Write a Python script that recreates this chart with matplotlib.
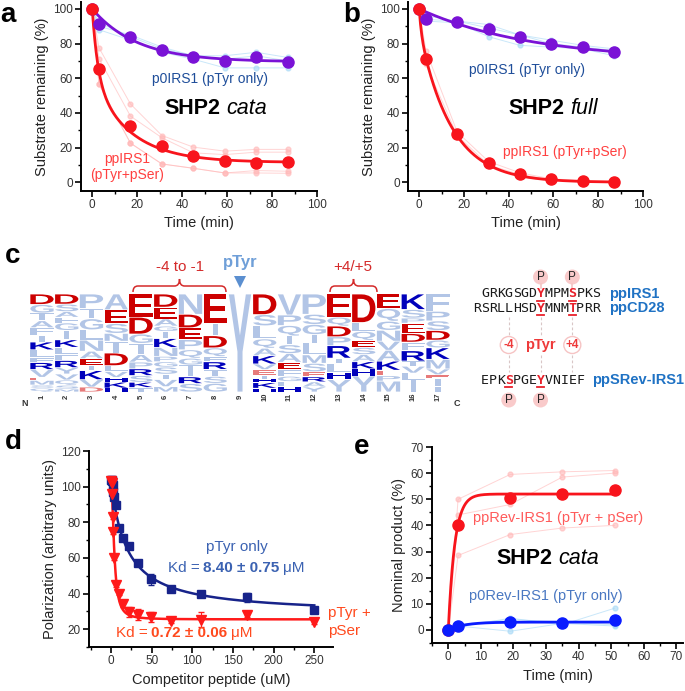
import numpy as np
import matplotlib
matplotlib.use('Agg')
import matplotlib.pyplot as plt
from matplotlib.textpath import TextPath
from matplotlib.font_manager import FontProperties
from matplotlib.patches import PathPatch, Ellipse, Polygon
from matplotlib.path import Path
from matplotlib.transforms import Affine2D
import matplotlib.ticker as mt

plt.rcParams['font.family'] = ['Liberation Sans', 'DejaVu Sans']

# ---------------- data ----------------
# panel a (SHP2 cata)
time_ab = [0, 3, 17, 31, 45, 59, 73, 87]
p0_a_mean = [100, 91.1, 83.6, 76.6, 72.4, 69.9, 72.0, 69.5]
pp_a_mean = [100, 65.6, 32.2, 20.7, 15.4, 12.2, 11.2, 12.0]
p0_a_rep1 = [100, 90, 85, 78, 73, 73, 75, 72]
p0_a_rep2 = [100, 88, 82, 75, 71, 66, 66, 66]
p0_a_rep3 = [100, 92, 84, 77, 73, 71, 73, 70]
pp_a_rep1 = [100, 77.6, 45.2, 27.0, 20.3, 18.0, 19.0, 19.0]
pp_a_rep2 = [100, 71.4, 38.2, 25.7, 17.0, 16.0, 17.4, 17.4]
pp_a_rep3 = [100, 56.6, 22.6, 10.6, 8.1, 5.4, 6.8, 6.4]
pp_a_rep4 = [100, 56.6, 22.6, 10.6, 8.1, 5.4, 5.4, 5.2]

# panel b (SHP2 full)
p0_b_mean = [100, 94.2, 92.6, 88.4, 83.6, 79.7, 78.1, 75.4]
pp_b_mean = [100, 71.0, 28.0, 11.0, 5.0, 1.7, 0.8, 0.0]
p0_b_rep1 = [100, 96, 93, 91, 85, 82, 79, 77]
p0_b_rep2 = [100, 93, 92, 84, 79, 78, 77, 73]
p0_b_rep3 = [100, 94, 93, 89, 85, 80, 78, 76]
pp_b_rep1 = [100, 76, 29, 12, 5.5, 2, 1, 0.5]
pp_b_rep2 = [100, 68, 27, 10, 4.5, 1.5, 0.5, 0]

# fit parameters
fit_a_p0 = (69.5, 30.5, 0.05)
fit_a_pp = (11.5, 40.0, 0.4, 48.5, 0.06)
fit_b_p0 = (70.0, 30.0, 0.0197)
fit_b_pp = (0.0, 12.0, 1.0, 88.0, 0.07)

# panel c: sequence logo, letters listed top -> bottom with heights
logo_letters = ["DGTAFIKLFRVEMSQ", "DSAFGIKLFRYVQSM", "PTGLNAEIKVD", "AESNTDLVHKH",
                "EDGTAPRSKT", "DEAGIKNPGSTVM", "NDEPQGTIRS", "EIDQFRTSG", "Y",
                "DSLQAKVEIHKH", "VPQISAEFGLH", "PSGILMSERAY", "EQDPRILHY",
                "DLQESAKHY", "EQGNVAKEPM", "KSPEDFRTVLI", "FPSDGKMVEIT"]
logo_heights = [[27, 22, 20, 18, 20, 17, 20, 20, 13, 18, 20, 8, 12, 8, 10],
                [27, 20, 15, 15, 20, 25, 20, 20, 15, 19, 17, 16, 14, 10, 8],
                [35, 25, 27, 25, 27, 18, 17, 12, 22, 18, 12],
                [40, 35, 25, 20, 30, 32, 15, 15, 12, 15, 10],
                [62, 45, 25, 30, 20, 18, 18, 18, 14, 12],
                [37, 33, 20, 15, 20, 25, 25, 15, 15, 20, 15, 20, 15],
                [60, 40, 35, 30, 25, 20, 15, 20, 20, 25],
                [85, 35, 35, 25, 15, 22, 20, 20, 25],
                [1],
                [55, 30, 35, 25, 20, 22, 15, 15, 10, 10, 15, 10],
                [60, 30, 30, 25, 25, 25, 20, 20, 15, 15, 15],
                [60, 30, 30, 25, 35, 25, 25, 15, 15, 15, 15],
                [65, 25, 30, 25, 35, 15, 25, 20, 35],
                [80, 25, 25, 20, 20, 20, 20, 20, 45],
                [40, 35, 25, 30, 25, 30, 25, 15, 15, 30],
                [45, 25, 15, 30, 25, 25, 30, 15, 20, 20, 35],
                [45, 25, 25, 25, 20, 30, 25, 15, 10, 20, 15]]
logo_positions = list(range(1, 18))

seq_ppIRS1 = "GRKGSGDYMPMSPKS"
seq_ppCD28 = "RSRLLHSDYMNMTPRR"
seq_ppSRev = "EPKSPGEYVNIEF"

# panel d
conc_d = [0, 0.86, 1.28, 1.93, 2.89, 4.33, 6.5, 9.75, 14.6, 21.9, 32.9, 49.4, 74.1, 111.1, 166.7, 250]
pol_pTyr = [104, 104, 103, 101, 97, 94, 89.7, 76.6, 71, 66.6, 57.3, 48, 42.6, 39.7, 37.8, 30.7]
err_pTyr = [1, 1, 1, 1, 1, 1, 1, 1, 1, 1.5, 1.5, 3, 1.5, 1.5, 2.5, 1]
pol_pTyr_pSer = [103, 102, 96, 82.7, 74.6, 60, 44.7, 40, 34, 29.7, 28.2, 26.9, 24.5, 25.4, 27.7, 24.1]
err_pTyr_pSer = [1, 1, 1, 1, 1, 1, 1, 1, 1.5, 3, 3, 3, 1, 4, 1, 1]
fit_d_pTyr = (28.0, 76.0, 19.0, 1.0)
fit_d_pSer = (25.5, 78.0, 4.0, 2.0)

# panel e
time_e = [0, 3, 19, 35, 51]
pp_e_mean = [0, 40, 50.5, 52, 53.5]
p0_e_mean = [0, 1.5, 3, 2.5, 3.8]
pp_e_rep1 = [0, 50, 59.5, 60.5, 61]
pp_e_rep2 = [0, 44, 48, 58.5, 60]
pp_e_rep3 = [0, 28.5, 36.5, 39, 40]
p0_e_rep1 = [0, 1, 4.5, 2, 8.3]
p0_e_rep2 = [0, 1.5, -0.5, 2.5, 1.5]
p0_e_rep3 = [0, 2, 4, 3, 2]
fit_e_pp = (52.0, 0.5)
fit_e_p0 = (3.0, 0.2)

# ---------------- colours ----------------
PURPLE = '#7a12d6'
RED = '#f8141c'
LBLUE = '#a6d8f6'
LRED = '#ffb8b8'
NAVY = '#17238a'
TXT_BLUE = '#1f4e9a'

W, H = 685, 691
fig = plt.figure(figsize=(6.85, 6.91), dpi=100)


def fx(x):
    return x / W


def fy(y):
    return 1 - y / H


def ax_px(l, t, r, b):
    return fig.add_axes([l / W, 1 - b / H, (r - l) / W, (b - t) / H])


def style(ax, xmaj, xmin, ymaj, ymin):
    for s in ['top', 'right']:
        ax.spines[s].set_visible(False)
    for s in ['left', 'bottom']:
        ax.spines[s].set_linewidth(1.4)
    ax.xaxis.set_major_locator(mt.MultipleLocator(xmaj))
    ax.xaxis.set_minor_locator(mt.MultipleLocator(xmin))
    ax.yaxis.set_major_locator(mt.MultipleLocator(ymaj))
    ax.yaxis.set_minor_locator(mt.MultipleLocator(ymin))
    ax.tick_params(which='major', direction='out', length=4, width=1.2,
                   labelsize=8.5, pad=2, labelcolor='#333333')
    ax.tick_params(which='minor', direction='out', length=2.5, width=1)


renderer = fig.canvas.get_renderer()


def rich(x, y, parts, gap=4, ha='center'):
    texts, widths = [], []
    for s, kw in parts:
        t = fig.text(0, 0, s, va='center', ha='left', **kw)
        widths.append(t.get_window_extent(renderer).width)
        texts.append(t)
    total = sum(widths) + gap * (len(parts) - 1)
    xs = x - total / 2 if ha == 'center' else x
    for t, wd in zip(texts, widths):
        t.set_position((fx(xs), fy(y)))
        xs += wd + gap


def ftext(x, y, s, **kw):
    kw.setdefault('ha', 'center')
    kw.setdefault('va', 'center')
    fig.text(fx(x), fy(y), s, **kw)


# ---------------- panel a ----------------
ax = ax_px(81, 2, 317, 191)
ax.set_xlim(-5, 100)
ax.set_ylim(-5, 104)
style(ax, 20, 10, 20, 10)
for rep in [p0_a_rep1, p0_a_rep2, p0_a_rep3]:
    ax.plot(time_ab, rep, '-o', color=LBLUE, lw=0.7, ms=3.5, alpha=0.6, zorder=1)
for rep in [pp_a_rep1, pp_a_rep2, pp_a_rep3, pp_a_rep4]:
    ax.plot(time_ab, rep, '-o', color=LRED, lw=0.7, ms=3.5, alpha=0.6, zorder=1)
tf = np.linspace(0, 87, 300)
ax.plot(tf, fit_a_p0[0] + fit_a_p0[1] * np.exp(-fit_a_p0[2] * tf), color=PURPLE, lw=2, zorder=2)
ax.plot(tf, fit_a_pp[0] + fit_a_pp[1] * np.exp(-fit_a_pp[2] * tf) + fit_a_pp[3] * np.exp(-fit_a_pp[4] * tf),
        color=RED, lw=2, zorder=2)
ax.plot(time_ab, p0_a_mean, 'o', color=PURPLE, ms=8, zorder=3)
ax.plot(time_ab, pp_a_mean, 'o', color=RED, ms=8, zorder=3)
ax.set_ylabel('Substrate remaining (%)', fontsize=10.5, color='#222222', labelpad=3)
ax.set_xlabel('Time (min)', fontsize=10.5, color='#222222', labelpad=3)

ftext(210, 79, 'p0IRS1 (pTyr only)', fontsize=10, color=TXT_BLUE)
rich(216, 108, [('SHP2', dict(fontsize=15.5, weight='bold')),
                ('cata', dict(fontsize=15.5, style='italic'))], gap=6)
ftext(127, 159, 'ppIRS1', fontsize=10, color='#ff4040')
ftext(127, 175, '(pTyr+pSer)', fontsize=10, color='#ff4040')

# ---------------- panel b ----------------
ax = ax_px(408, 2, 643, 191)
ax.set_xlim(-5, 100)
ax.set_ylim(-5, 104)
style(ax, 20, 10, 20, 10)
for rep in [p0_b_rep1, p0_b_rep2, p0_b_rep3]:
    ax.plot(time_ab, rep, '-o', color=LBLUE, lw=0.7, ms=3.5, alpha=0.6, zorder=1)
for rep in [pp_b_rep1, pp_b_rep2]:
    ax.plot(time_ab, rep, '-o', color=LRED, lw=0.7, ms=3.5, alpha=0.6, zorder=1)
ax.plot(tf, fit_b_p0[0] + fit_b_p0[1] * np.exp(-fit_b_p0[2] * tf), color=PURPLE, lw=2, zorder=2)
ax.plot(tf, fit_b_pp[0] + fit_b_pp[1] * np.exp(-fit_b_pp[2] * tf) + fit_b_pp[3] * np.exp(-fit_b_pp[4] * tf),
        color=RED, lw=2, zorder=2)
ax.plot(time_ab, p0_b_mean, 'o', color=PURPLE, ms=8, zorder=3)
ax.plot(time_ab, pp_b_mean, 'o', color=RED, ms=8, zorder=3)
ax.set_ylabel('Substrate remaining (%)', fontsize=10.5, color='#222222', labelpad=3)
ax.set_xlabel('Time (min)', fontsize=10.5, color='#222222', labelpad=3)

ftext(527, 70, 'p0IRS1 (pTyr only)', fontsize=10, color=TXT_BLUE)
rich(553, 108, [('SHP2', dict(fontsize=15.5, weight='bold')),
                ('full', dict(fontsize=15.5, style='italic'))], gap=6)
ftext(565, 152, 'ppIRS1 (pTyr+pSer)', fontsize=10, color='#ff4040')

# ---------------- panel c: logo ----------------
axc = ax_px(29.6, 294, 450.4, 392)
axc.set_xlim(0.5, 17.5)
axc.set_ylim(0, 1)
axc.axis('off')
fp_logo = FontProperties(family='Liberation Sans', weight='bold')
_cache = {}


def letter(ch, x0, y0, w, h, color):
    if ch not in _cache:
        _cache[ch] = TextPath((0, 0), ch, size=1, prop=fp_logo)
    p = _cache[ch]
    bb = p.get_extents()
    tr = (Affine2D().translate(-bb.x0, -bb.y0)
          .scale(w / bb.width, h / bb.height).translate(x0, y0))
    axc.add_patch(PathPatch(tr.transform_path(p), facecolor=color, edgecolor='none'))


for pos, letters, hts in zip(logo_positions, logo_letters, logo_heights):
    tot = float(sum(hts))
    ytop = 1.0
    for ch, hh in zip(letters, hts):
        frac = hh / tot
        if ch in 'DE':
            col = '#cc0000' if frac >= 0.06 else '#e77a7a'
        elif ch in 'KRH':
            col = '#0000bb'
        else:
            col = '#b2c5e6'
        w = 0.94
        if ch == 'I':
            w = 0.22
        elif ch == 'Y' and len(letters) == 1:
            w = 0.9
        letter(ch, pos - w / 2, ytop - frac + 0.004, w, frac - 0.008, col)
        ytop -= frac

for i in logo_positions:
    ftext(29.6 + (i - 0.5) * 24.75, 397, str(i), fontsize=5.5, weight='bold', rotation=90, color='#333333')
ftext(25, 404, 'N', fontsize=6.5, weight='bold', color='#333333')
ftext(457, 403, 'C', fontsize=6.5, weight='bold', color='#333333')


def brace(x0, x1, ybase, ymid, ytop, color):
    xm = (x0 + x1) / 2
    r = 5
    pts = [(x0, ybase), (x0, ymid), (x0 + r, ymid), (xm - r, ymid), (xm, ymid), (xm, ytop),
           (xm, ymid), (xm + r, ymid), (x1 - r, ymid), (x1, ymid), (x1, ybase)]
    codes = [Path.MOVETO, Path.CURVE3, Path.CURVE3, Path.LINETO, Path.CURVE3, Path.CURVE3,
             Path.CURVE3, Path.CURVE3, Path.LINETO, Path.CURVE3, Path.CURVE3]
    verts = [(fx(a), fy(b)) for a, b in pts]
    fig.add_artist(PathPatch(Path(verts, codes), fill=False, edgecolor=color, lw=1.1,
                             transform=fig.transFigure))


brace(133, 226, 292, 286, 279, '#d42a2a')
brace(330, 377, 292, 286, 279, '#d42a2a')
ftext(180, 267, '-4 to -1', fontsize=11, color='#d42a2a')
ftext(353, 267, '+4/+5', fontsize=11, color='#d42a2a')
ftext(240, 262, 'pTyr', fontsize=12, weight='bold', color='#6f9fd8')
fig.add_artist(Polygon([(fx(234), fy(276)), (fx(246), fy(276)), (fx(240), fy(288))],
                       closed=True, facecolor='#5b8fd0', edgecolor='none', transform=fig.transFigure))

# sequences
CW = 7.94
MONO = 'DejaVu Sans Mono'


def seq(s, x0, y, red_idx):
    for i, ch in enumerate(s):
        x = x0 + (i + 0.5) * CW
        if i in red_idx:
            ftext(x, y, ch, fontsize=9.5, family=MONO, color='#e8202a', weight='bold')
            fig.add_artist(plt.Line2D([fx(x - 3.6), fx(x + 3.6)], [fy(y + 7), fy(y + 7)],
                                      color='#e8202a', lw=1.3, transform=fig.transFigure))
        else:
            ftext(x, y, ch, fontsize=9.5, family=MONO, color='#1a1a1a')


def circ(x, y, r, fc, ec):
    fig.add_artist(Ellipse((fx(x), fy(y)), 2 * r / W, 2 * r / H, facecolor=fc, edgecolor=ec,
                           lw=1, transform=fig.transFigure))


def vdash(x, y0, y1):
    fig.add_artist(plt.Line2D([fx(x), fx(x)], [fy(y0), fy(y1)], color='#d9c6c6', lw=0.8,
                              ls=(0, (2.5, 2)), transform=fig.transFigure))


xs1 = 481
xs2 = 473
xs3 = 481
xm4 = xs3 + 3.5 * CW
xY = xs1 + 7.5 * CW
xp4 = xs1 + 11.5 * CW

for x in (xm4, xY, xp4):
    vdash(x, 317, 336)
    vdash(x, 355, 372)
fig.add_artist(plt.Line2D([fx(xY), fx(xY)], [fy(284), fy(288)], color='#f4c3c3', lw=1.2,
                          transform=fig.transFigure))
fig.add_artist(plt.Line2D([fx(xp4), fx(xp4)], [fy(284), fy(288)], color='#f4c3c3', lw=1.2,
                          transform=fig.transFigure))

seq(seq_ppIRS1, xs1, 294, {7, 11})
seq(seq_ppCD28, xs2, 308, {8, 12})
seq(seq_ppSRev, xs3, 380, {3, 7})

for x in (xY, xp4):
    circ(x, 277, 7.5, '#f9caca', 'none')
    ftext(x, 277, 'P', fontsize=8.5, color='#222222')
for x in (xm4, xY):
    circ(x, 400, 7.5, '#f9caca', 'none')
    ftext(x, 400, 'P', fontsize=8.5, color='#222222')
for x, s in ((xm4, '-4'), (xp4, '+4')):
    circ(x, 345, 8.5, 'white', '#f6c4c4')
    ftext(x, 345, s, fontsize=8.5, weight='bold', color='#ee3a3a')
ftext(xY, 345, 'pTyr', fontsize=10.5, weight='bold', color='#ee3a3a')

ftext(609, 294, 'ppIRS1', fontsize=10.5, weight='bold', color='#1f72c4', ha='left')
ftext(609, 308, 'ppCD28', fontsize=10.5, weight='bold', color='#1f72c4', ha='left')
ftext(592, 380, 'ppSRev-IRS1', fontsize=10.5, weight='bold', color='#1f72c4', ha='left')

# ---------------- panel d ----------------
ax = ax_px(89, 451, 333, 647)
ax.set_xlim(-27, 273)
ax.set_ylim(10, 120)
style(ax, 50, 25, 20, 10)
cf = np.linspace(0, 250, 800)
ax.plot(cf, fit_d_pTyr[0] + fit_d_pTyr[1] / (1 + (cf / fit_d_pTyr[2]) ** fit_d_pTyr[3]), color=NAVY, lw=1.8, zorder=2)
ax.plot(cf, fit_d_pSer[0] + fit_d_pSer[1] / (1 + (cf / fit_d_pSer[2]) ** fit_d_pSer[3]), color='#ff1a1a', lw=1.8, zorder=2)
ax.errorbar(conc_d, pol_pTyr, yerr=err_pTyr, fmt='s', color=NAVY, ms=6, capsize=2, elinewidth=0.8, zorder=3)
ax.errorbar(conc_d, pol_pTyr_pSer, yerr=err_pTyr_pSer, fmt='v', color='#ff1a1a', ms=7, capsize=2,
            elinewidth=0.8, zorder=3)
ax.set_ylabel('Polarization (arbitrary units)', fontsize=10.5, color='#222222', labelpad=3)
ax.set_xlabel('Competitor peptide (uM)', fontsize=10.5, color='#222222', labelpad=4)

ftext(237, 547, 'pTyr only', fontsize=11, color='#3b62b2')
rich(236, 568, [('Kd =', dict(fontsize=11, color='#3b62b2')),
                ('8.40 ± 0.75', dict(fontsize=11, color='#3b62b2', weight='bold')),
                ('μM', dict(fontsize=11, color='#3b62b2'))], gap=3.5)
rich(184, 633, [('Kd =', dict(fontsize=11, color='#ff4a1e')),
                ('0.72 ± 0.06', dict(fontsize=11, color='#ff4a1e', weight='bold')),
                ('μM', dict(fontsize=11, color='#ff4a1e'))], gap=3.5)
ftext(328, 613, 'pTyr +', fontsize=11, color='#ff4a1e', ha='left')
ftext(328, 631, 'pSer', fontsize=11, color='#ff4a1e', ha='left')

# ---------------- panel e ----------------
ax = ax_px(432, 447, 683, 643)
ax.set_xlim(-5, 72)
ax.set_ylim(-5, 70)
style(ax, 10, 5, 10, 5)
for rep in [pp_e_rep1, pp_e_rep2, pp_e_rep3]:
    ax.plot(time_e, rep, '-o', color=LRED, lw=0.7, ms=3.5, alpha=0.6, zorder=1)
for rep in [p0_e_rep1, p0_e_rep2, p0_e_rep3]:
    ax.plot(time_e, rep, '-o', color=LBLUE, lw=0.7, ms=3.5, alpha=0.6, zorder=1)
te = np.linspace(0, 51, 400)
ax.plot(te, fit_e_pp[0] * (1 - np.exp(-fit_e_pp[1] * te)), color=RED, lw=2, zorder=2)
ax.plot(te, fit_e_p0[0] * (1 - np.exp(-fit_e_p0[1] * te)), color='#0a1cff', lw=2, zorder=2)
ax.plot(time_e, pp_e_mean, 'o', color=RED, ms=8, zorder=3)
ax.plot(time_e, p0_e_mean, 'o', color='#0a1cff', ms=8, zorder=3)
ax.set_ylabel('Nominal product (%)', fontsize=10.5, color='#222222', labelpad=3)
ax.set_xlabel('Time (min)', fontsize=10.5, color='#222222', labelpad=4)

ftext(558, 518, 'ppRev-IRS1 (pTyr + pSer)', fontsize=10.5, color='#ff5a5a')
rich(548, 558, [('SHP2', dict(fontsize=15.5, weight='bold')),
                ('cata', dict(fontsize=15.5, style='italic'))], gap=6)
ftext(546, 596, 'p0Rev-IRS1 (pTyr only)', fontsize=10.5, color='#4a78c2')

# ---------------- panel letters ----------------
for s, x, y in (('a', 8, 15), ('b', 352, 15), ('c', 13, 256), ('d', 13, 442), ('e', 362, 447)):
    ftext(x, y, s, fontsize=20, weight='bold', color='black')

fig.savefig('out.png', dpi=100)
